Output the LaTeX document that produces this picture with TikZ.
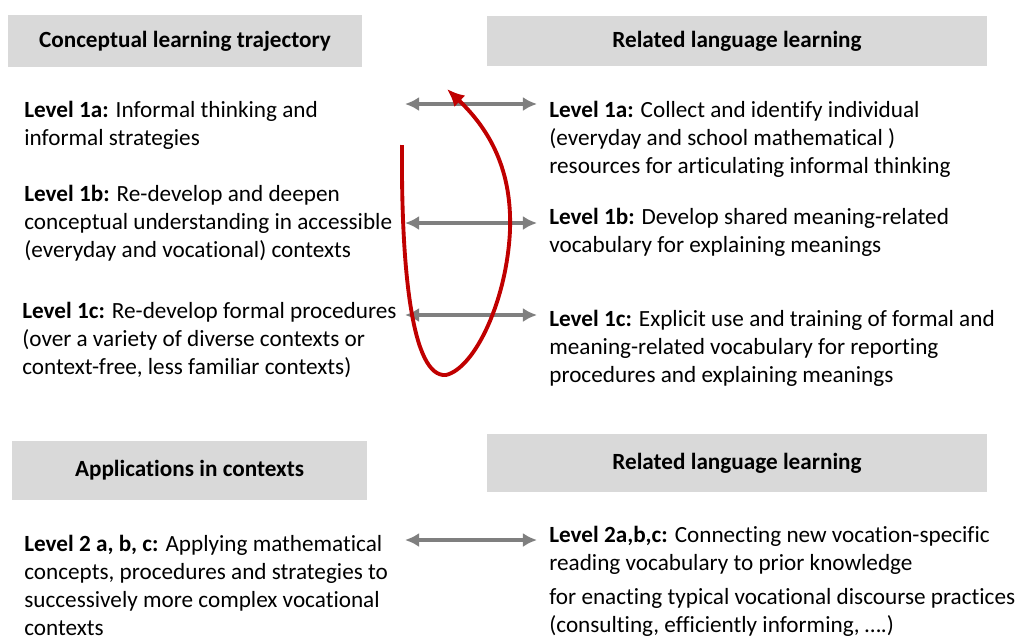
\documentclass[tikz,border=0pt]{standalone}
\usepackage{fontspec}
\setmainfont[Ligatures=NoCommon]{Carlito}
\usepackage{tikz}
\usetikzlibrary{arrows.meta}

\definecolor{headgray}{HTML}{D9D9D9}
\definecolor{arrowgray}{HTML}{7F7F7F}
\definecolor{loopred}{HTML}{C00000}

\tikzset{
  headbox/.style={fill=headgray, inner sep=0pt, font=\fontsize{13.2}{15}\selectfont\bfseries},
  leveltext/.style={anchor=north west, align=left, inner sep=0pt, font=\fontsize{13.2}{15.9}\selectfont},
  biarrow/.style={draw=arrowgray, line width=2.2pt, {Latex[length=8pt,width=8pt]}-{Latex[length=8pt,width=8pt]}},
  redloop/.style={draw=loopred, line width=2.2pt, -{Latex[length=10pt,width=9pt]}}
}

\begin{document}
\begin{tikzpicture}[x=0.02cm, y=-0.02cm]
\useasboundingbox (0,0) rectangle (1021,637);

% headers
\node[headbox, minimum width=7.08cm, minimum height=1.04cm] (concept) at (185,41) {Conceptual learning trajectory};
\node[headbox, minimum width=10cm, minimum height=1cm] (relate1) at (737,41) {Related language learning};
\node[headbox, minimum width=7.1cm, minimum height=1.18cm] (applic) at (189.5,470.5) {Applications in contexts};
\node[headbox, minimum width=10cm, minimum height=1.16cm] (relate2) at (737,463) {Related language learning};

% left column
\node[leveltext] (l1a) at (24,101) {\textbf{Level 1a:} Informal thinking and\\informal strategies};
\node[leveltext] (l1b) at (24,185) {\textbf{Level 1b:} Re-develop and deepen\\conceptual understanding in accessible\\(everyday and vocational) contexts};
\node[leveltext] (l1c) at (22,302) {\textbf{Level 1c:} Re-develop formal procedures\\(over a variety of diverse contexts or\\context-free, less familiar contexts)};
\node[leveltext] (l2) at (24,535) {\textbf{Level 2 a, b, c:} Applying mathematical\\concepts, procedures and strategies to\\successively more complex vocational\\contexts};

% right column
\node[leveltext] (r1a) at (549,101) {\textbf{Level 1a:} Collect and identify individual\\(everyday and school mathematical )\\resources for articulating informal thinking};
\node[leveltext] (r1b) at (549,208) {\textbf{Level 1b:} Develop shared meaning-related\\vocabulary for explaining meanings};
\node[leveltext] (r1c) at (549,310) {\textbf{Level 1c:} Explicit use and training of formal and\\meaning-related vocabulary for reporting\\procedures and explaining meanings};
\node[leveltext] (r2) at (549,526) {\textbf{Level 2a,b,c:} Connecting new vocation-specific\\reading vocabulary to prior knowledge\\[0.12cm]for enacting typical vocational discourse practices\\(consulting, efficiently informing, ….)};

% arrow ends
\coordinate (a1l) at (405,104);
\coordinate (a1r) at (537,104);
\coordinate (a2l) at (405,223);
\coordinate (a2r) at (537,223);
\coordinate (a3l) at (405,315);
\coordinate (a3r) at (537,315);
\coordinate (a4l) at (405,540);
\coordinate (a4r) at (537,540);

\draw[biarrow] (a1l) -- (a1r);
\draw[biarrow] (a2l) -- (a2r);
\draw[biarrow] (a3l) -- (a3r);
\draw[biarrow] (a4l) -- (a4r);

% loop
\coordinate (loopstart) at (402,145);
\coordinate (loopbottom) at (446,375);
\coordinate (loopend) at (447,89);
\draw[redloop] (loopstart) .. controls (401,270) and (412,378) .. (loopbottom)
  .. controls (475,368) and (507,300) .. (510,230)
  .. controls (512,170) and (490,130) .. (loopend);
\end{tikzpicture}
\end{document}
